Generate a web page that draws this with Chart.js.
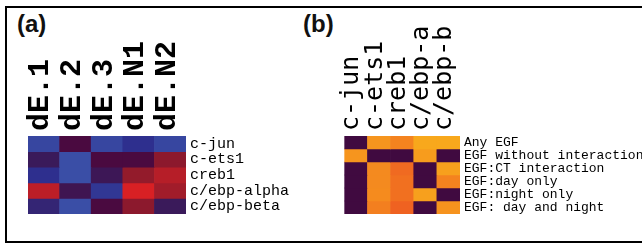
<!DOCTYPE html>
<html><head><meta charset="utf-8">
<script src="https://cdn.jsdelivr.net/npm/chart.js@4/dist/chart.umd.min.js"></script>
<style>
html,body{margin:0;padding:0;background:#fff;width:642px;height:244px;overflow:hidden;}
#frame{position:absolute;left:5px;top:6px;width:700px;height:237px;box-sizing:border-box;border:2px solid #000;}
.tag{position:absolute;font-family:'Liberation Sans',Arial,sans-serif;font-weight:bold;font-size:24px;line-height:24px;color:#111;}
#wa{position:absolute;left:0;top:0;width:320px;height:244px;}
#wb{position:absolute;left:320px;top:0;width:322px;height:244px;}
</style></head>
<body>
<div id="frame"></div>
<div class="tag" style="left:17px;top:12px;">(a)</div>
<div class="tag" style="left:303px;top:12px;">(b)</div>
<div id="wa"><canvas id="ca" width="320" height="244"></canvas></div>
<div id="wb"><canvas id="cb" width="322" height="244"></canvas></div>
<script>
// Panel (a): fold-change heatmap
const colsA = ['dE.1', 'dE.2', 'dE.3', 'dE.N1', 'dE.N2'];
const rowsA = ['c-jun', 'c-ets1', 'creb1', 'c/ebp-alpha', 'c/ebp-beta'];
const valsA_cjun   = [-0.9, 0.0, -0.9, -0.6, -0.9];
const valsA_cets1  = [-0.3, -1.0, 0.0, 0.0, 0.45];
const valsA_creb1  = [-0.6, -1.0, -0.25, 0.5, 0.75];
const valsA_alpha  = [0.8, -0.2, -0.7, 1.0, 0.6];
const valsA_beta   = [-0.45, -1.0, 0.0, 0.45, -0.3];
const valsA = [valsA_cjun, valsA_cets1, valsA_creb1, valsA_alpha, valsA_beta];

// Panel (b): significance heatmap (0 = not significant)
const colsB = ['c-jun', 'c-ets1', 'creb1', 'c/ebp-a', 'c/ebp-b'];
const rowsB = ['Any EGF', 'EGF without interaction', 'EGF:CT interaction', 'EGF:day only', 'EGF:night only', 'EGF: day and night'];
const valsB_any     = [0, 0.72, 0.5, 0.95, 0.95];
const valsB_without = [0.72, 0, 0, 0.8, 0];
const valsB_ct      = [0, 0.58, 0.2, 0, 0.85];
const valsB_day     = [0, 0.58, 0.27, 0, 0.5];
const valsB_night   = [0, 0.6, 0.27, 0.85, 0];
const valsB_both    = [0, 0.45, 0.1, 0, 0.7];
const valsB = [valsB_any, valsB_without, valsB_ct, valsB_day, valsB_night, valsB_both];

function hex(h){return [parseInt(h.slice(1,3),16),parseInt(h.slice(3,5),16),parseInt(h.slice(5,7),16)];}
function ramp(stops, v){
  if (v <= stops[0][0]) return 'rgb('+hex(stops[0][1]).join(',')+')';
  for (let i=1;i<stops.length;i++){
    if (v <= stops[i][0]){
      const [a,ca]=stops[i-1],[b,cb]=stops[i];
      const t=(v-a)/(b-a), A=hex(ca), B=hex(cb);
      return 'rgb('+A.map((x,k)=>Math.round(x+(B[k]-x)*t)).join(',')+')';
    }
  }
  return 'rgb('+hex(stops[stops.length-1][1]).join(',')+')';
}
const mapA = [[-1,'#3a4ea6'],[-0.6,'#2e2f8e'],[-0.3,'#3a1a5a'],[0,'#4a0a40'],[0.5,'#931b2b'],[1,'#d82024']];
const colorA = v => ramp(mapA, v);
const colorB = v => v <= 0 ? '#400a40' : ramp([[0,'#ee5a22'],[1,'#f9ac1c']], v);

function heat(id, cols, rows, vals, colorFn, o){
  const datasets = rows.map((r,i)=>({
    label: r,
    data: cols.map(()=>1),
    backgroundColor: vals[i].map(colorFn),
    borderWidth: 0,
    barPercentage: 1,
    categoryPercentage: 1,
    yAxisID: 'y'
  }));
  new Chart(document.getElementById(id), {
    type: 'bar',
    data: { labels: cols, datasets },
    options: {
      responsive: false,
      animation: false,
      devicePixelRatio: 1,
      layout: { padding: { left: o.left, top: 0, right: 0, bottom: o.bottom } },
      plugins: { legend: { display: false }, tooltip: { enabled: false } },
      scales: {
        x: {
          position: 'top', stacked: true,
          grid: { display: false, drawTicks: false }, border: { display: false },
          ticks: { minRotation: 90, maxRotation: 90, autoSkip: false, padding: o.xPad, color: '#000',
                   labelOffset: o.xOff,
                   font: { family: o.xFont, size: o.xSize, weight: o.xWeight, lineHeight: 1.2 } },
          afterFit: s => { s.height = o.xH; }
        },
        y: { type: 'linear', stacked: true, display: false, min: 0, max: rows.length, reverse: true },
        yl: {
          type: 'category', labels: rows, position: 'right', offset: true,
          grid: { display: false, drawTicks: false }, border: { display: false },
          ticks: { autoSkip: false, padding: 4, color: '#000', font: { family: "'Liberation Mono', monospace", size: o.ySize, weight: o.yWeight } },
          afterFit: s => { s.width = o.yW; }
        }
      }
    }
  });
}

heat('ca', colsA, rowsA, valsA, colorA, { left: 28, bottom: 30, xH: 136, yW: 134, xPad: 5, xOff: 33,
  xFont: "'Liberation Mono', monospace", xSize: 30, xWeight: 'bold', ySize: 15, yWeight: 'normal' });
heat('cb', colsB, rowsB, valsB, colorB, { left: 9, bottom: 30, xH: 136, yW: 182, xPad: 5, xOff: 26,
  xFont: "'DejaVu Sans Mono', monospace", xSize: 25, xWeight: 'normal', ySize: 13, yWeight: 'normal' });
</script>
</body></html>
